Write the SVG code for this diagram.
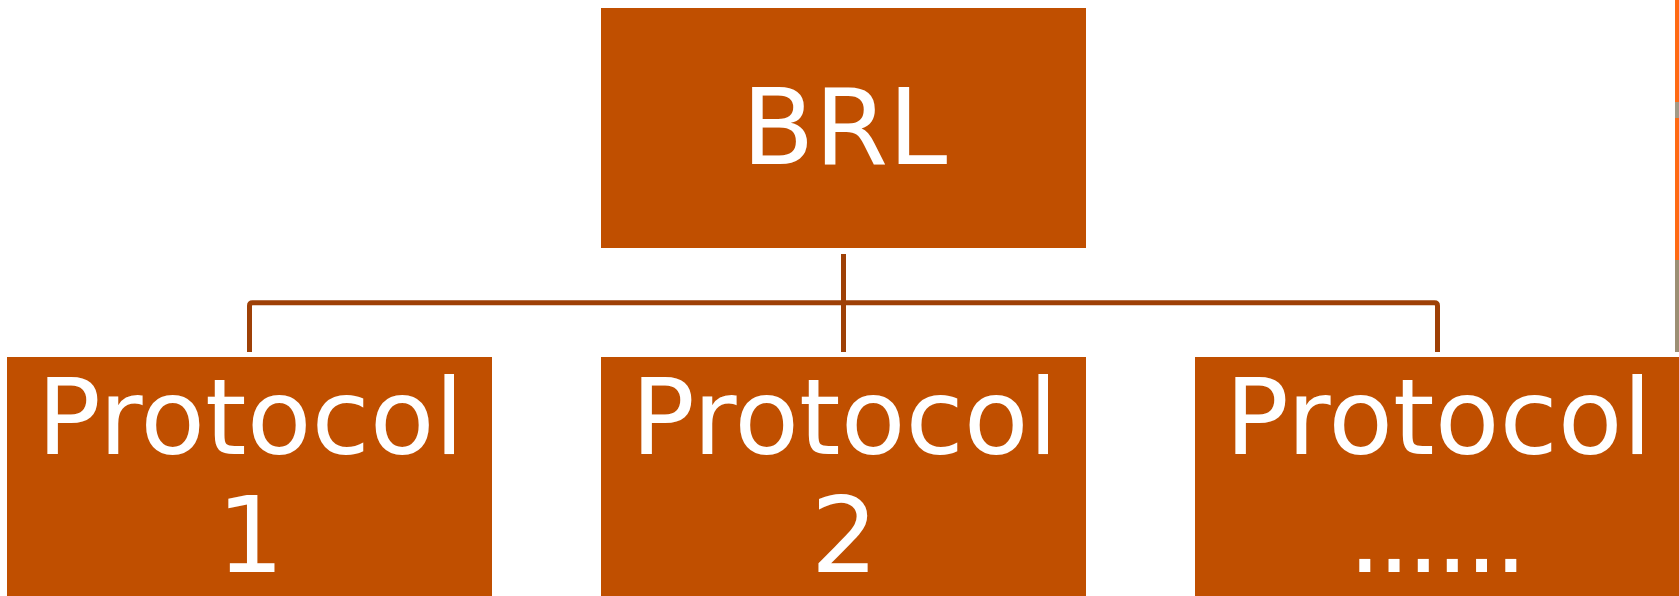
<svg xmlns="http://www.w3.org/2000/svg" width="1679" height="596" viewBox="0 0 1679 596">
  <style>
    .box { fill: #C04F00; }
    .lbl { font-family: "DejaVu Sans", sans-serif; font-size: 106px; fill: #FFFFFF; text-anchor: middle; }
    .conn { fill: none; stroke: #9E4006; stroke-width: 5; }
  </style>
  <rect x="0" y="0" width="1679" height="596" fill="#FFFFFF"/>
  <!-- edge strip at right border -->
  <rect x="1675" y="0" width="4" height="102" fill="#FF6A13"/>
  <rect x="1675" y="102" width="4" height="16" fill="#A39A86"/>
  <rect x="1675" y="118" width="4" height="142" fill="#FF6A13"/>
  <rect x="1675" y="260" width="4" height="92" fill="#9C8F74"/>
  <g id="connectors">
    <path class="conn" d="M249.5,352 V305.8 Q249.5,302.8 252.5,302.8 H1434.5 Q1437.5,302.8 1437.5,305.8 V352"/>
    <path class="conn" d="M843.5,254 V352"/>
  </g>
  <g id="brl">
    <rect class="box" x="601" y="8" width="485" height="240"/>
    <text class="lbl" x="844.5" y="164">BRL</text>
  </g>
  <g id="protocol1">
    <rect class="box" x="7" y="357" width="485" height="240"/>
    <text class="lbl" x="250.5" y="454">Protocol</text>
    <text class="lbl" x="250.5" y="572">1</text>
  </g>
  <g id="protocol2">
    <rect class="box" x="601" y="357" width="485" height="240"/>
    <text class="lbl" x="844.5" y="454">Protocol</text>
    <text class="lbl" x="844.5" y="572">2</text>
  </g>
  <g id="protocol3">
    <rect class="box" x="1195" y="357" width="485" height="240"/>
    <text class="lbl" x="1438.5" y="454">Protocol</text>
    <text class="lbl" x="1348" y="572" style="text-anchor:start; letter-spacing:-4.5px">......</text>
  </g>
</svg>
